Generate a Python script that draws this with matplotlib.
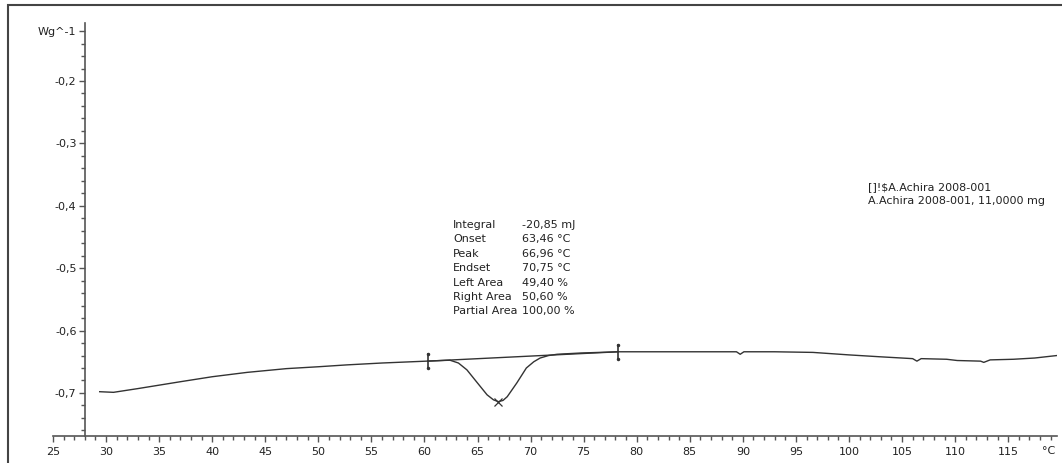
import matplotlib.pyplot as plt
from matplotlib.ticker import MultipleLocator, FixedLocator, FixedFormatter
from matplotlib.patches import Rectangle

# DSC curve, temperature (deg C) vs heat flow (W/g)
temp = [29.4, 30.7, 33.0, 37.0, 40.0, 43.3, 47.0, 50.0, 52.7, 56.0, 60.2,
        62.4, 63.2, 64.0, 64.9, 65.9, 66.5, 66.96, 67.4, 67.8, 68.7, 69.6,
        70.3, 70.9, 71.7, 72.5, 74.7, 78.3, 85.0, 89.4, 89.75, 90.1, 93.0,
        96.6, 100.0, 102.9, 106.0, 106.4, 106.8, 109.2, 110.2, 112.4, 112.7,
        113.3, 115.5, 117.5, 119.6]
heat_flow = [-0.698, -0.699, -0.693, -0.682, -0.674, -0.667, -0.661, -0.658,
             -0.655, -0.652, -0.649,
             -0.6475, -0.652, -0.663, -0.682, -0.703, -0.711, -0.714, -0.712,
             -0.706, -0.684, -0.660,
             -0.650, -0.644, -0.640, -0.638, -0.636, -0.634, -0.634, -0.634,
             -0.638, -0.634, -0.634,
             -0.635, -0.639, -0.642, -0.645, -0.649, -0.645, -0.646, -0.648,
             -0.649, -0.651,
             -0.647, -0.646, -0.644, -0.640]

# integration limits and peak
limits_t = [60.3, 78.25]
limits_hf = [-0.649, -0.634]
peak_t = 66.96
peak_hf = -0.714

result_names = ["Integral", "Onset", "Peak", "Endset", "Left Area",
                "Right Area", "Partial Area"]
result_values = ["-20,85 mJ", "63,46 °C", "66,96 °C", "70,75 °C",
                 "49,40 %", "50,60 %", "100,00 %"]
legend_lines = ["[]!$A.Achira 2008-001", "A.Achira 2008-001, 11,0000 mg"]

ytick_vals = [-0.7, -0.6, -0.5, -0.4, -0.3, -0.2, -0.12]
ytick_labels = ["-0,7", "-0,6", "-0,5", "-0,4", "-0,3", "-0,2", "Wg^-1"]
xtick_vals = list(range(25, 120, 5))

plt.rcParams['font.family'] = ['DejaVu Sans']
fig = plt.figure(figsize=(10.62, 4.63), dpi=100)
ax = fig.add_axes([53 / 1062, 1 - 436 / 463, 1004 / 1062, 413 / 463])

line_col = '#333333'
ax.plot(temp, heat_flow, color=line_col, lw=1.0)
# baseline between integration limits
ax.plot(limits_t, limits_hf, color=line_col, lw=1.0)
for t, h in zip(limits_t, limits_hf):
    ax.plot([t, t], [h - 0.011, h + 0.011], color=line_col, lw=1.2)
    ax.plot([t, t], [h - 0.011, h + 0.011], ls='none', marker='.',
            ms=3, color=line_col)
ax.plot([peak_t], [peak_hf], marker='x', ms=6, mew=0.9, color=line_col)

ax.set_xlim(25, 119.6)
ax.set_ylim(-0.769, -0.107)

for s in ['top', 'right']:
    ax.spines[s].set_visible(False)
ax.spines['left'].set_position(('data', 28))
for s in ['left', 'bottom']:
    ax.spines[s].set_color('#555555')
    ax.spines[s].set_linewidth(1.2)

ax.xaxis.set_major_locator(FixedLocator(xtick_vals))
ax.xaxis.set_minor_locator(MultipleLocator(1))
ax.yaxis.set_major_locator(FixedLocator(ytick_vals))
ax.yaxis.set_major_formatter(FixedFormatter(ytick_labels))
ax.yaxis.set_minor_locator(FixedLocator(
    [-0.76 + 0.02 * i for i in range(33)]))
ax.tick_params(which='major', direction='out', length=4, width=1,
               color='#555555', labelsize=8, labelcolor='#222222', pad=2)
ax.tick_params(which='minor', direction='out', length=2.6, width=1,
               color='#555555')
ax.tick_params(axis='x', pad=4)

# unit at the end of the temperature axis
ax.text(119.4, -0.769 - 0.0165, "°C", ha='right', va='top',
        fontsize=8, color='#222222')

# result table of the peak evaluation
for i, (n, v) in enumerate(zip(result_names, result_values)):
    y = -0.4308 - i * 0.0231
    ax.text(62.7, y, n, fontsize=8, va='center', color='#222222')
    ax.text(69.2, y, v, fontsize=8, va='center', color='#222222')

for i, s in enumerate(legend_lines):
    ax.text(101.8, -0.3695 - i * 0.0224, s, fontsize=8, va='center',
            color='#222222')

# outer frame of the plot window
fig.patches.append(Rectangle((8 / 1062, -0.05), 1.1, 1 - 5 / 463 + 0.05,
                             transform=fig.transFigure, fill=False,
                             edgecolor='#444444', lw=1.5))

fig.savefig('out.png', dpi=100)
